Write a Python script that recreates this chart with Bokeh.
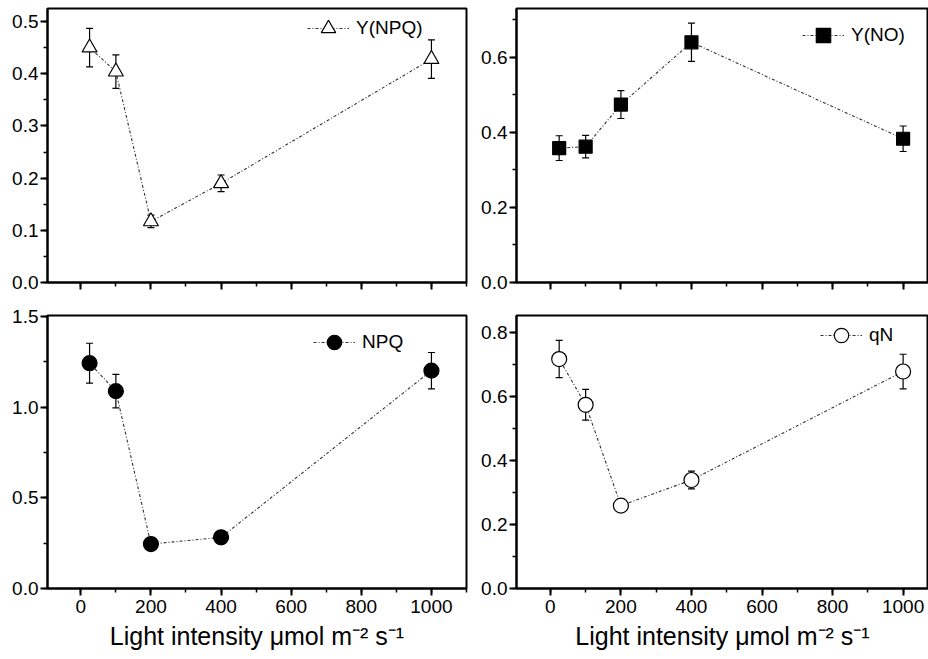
from bokeh.plotting import figure
from bokeh.layouts import column, row
from bokeh.models import (ColumnDataSource, Whisker, TeeHead, Range1d,
                          SingleIntervalTicker, NumeralTickFormatter,
                          CustomJSTickFormatter)
from bokeh.embed import file_html
from bokeh.resources import INLINE

# ---- data ----
light = [25, 100, 200, 400, 1000]

y_npq = [0.450, 0.404, 0.117, 0.190, 0.428]
y_npq_err = [0.037, 0.032, 0.012, 0.016, 0.037]

y_no = [0.358, 0.362, 0.474, 0.640, 0.383]
y_no_err = [0.033, 0.030, 0.037, 0.051, 0.034]

npq = [1.242, 1.088, 0.245, 0.282, 1.201]
npq_err = [0.110, 0.092, 0.020, 0.020, 0.100]

qn = [0.717, 0.574, 0.259, 0.339, 0.678]
qn_err = [0.058, 0.048, 0.020, 0.028, 0.054]

x_ticks_interval = 200
x_label = "Light intensity \u03bcmol m\u207b\u00b2 s\u207b\u00b9"

FONT = "Liberation Sans"


def make_panel(vals, errs, label, marker, fill, y_end, y_int, y_fmt,
               left_panel, top_row, legend_xy):
    if left_panel:
        w, mbl, mbr = 468, 47, 2
        xr = Range1d(-95, 1100)
    else:
        w, mbl, mbr = 460, 48, 0
        xr = Range1d(-96, 1072)
    if top_row:
        h, mbt, mbb = 300, 8, 18
    else:
        h, mbt, mbb = 359, 15, 71
    p = figure(width=w, height=h, output_backend="svg", toolbar_location=None,
               x_range=xr, y_range=Range1d(0, y_end),
               min_border_left=mbl, min_border_right=mbr,
               min_border_top=mbt, min_border_bottom=mbb)
    p.xgrid.visible = False
    p.ygrid.visible = False
    p.outline_line_color = "black"
    p.outline_line_width = 2
    p.outline_line_alpha = 1
    p.background_fill_color = "white"
    p.border_fill_color = "white"

    lower = [v - e for v, e in zip(vals, errs)]
    upper = [v + e for v, e in zip(vals, errs)]
    src = ColumnDataSource(dict(x=light, y=vals, lower=lower, upper=upper))

    wh = Whisker(source=src, base="x", lower="lower", upper="upper",
                 dimension="height", line_color="black", line_width=1.2,
                 upper_head=TeeHead(size=7, line_color="black", line_width=1.2),
                 lower_head=TeeHead(size=7, line_color="black", line_width=1.2),
                 level="underlay")
    p.add_layout(wh)

    p.line("x", "y", source=src, line_color="#333333", line_width=1.1,
           line_dash="3 2 1 2", legend_label=label)
    size = {"triangle": 15, "square": 13, "circle": 15}[marker]
    p.scatter("x", "y", source=src, marker=marker, size=size,
              fill_color=fill, line_color="black", line_width=1.2,
              legend_label=label)

    # axes
    p.xaxis.ticker = SingleIntervalTicker(interval=x_ticks_interval, num_minor_ticks=2)
    p.yaxis.ticker = SingleIntervalTicker(interval=y_int, num_minor_ticks=2)
    p.yaxis.formatter = NumeralTickFormatter(format=y_fmt)
    for ax in (p.xaxis[0], p.yaxis[0]):
        ax.axis_line_width = 2
        ax.axis_line_color = "black"
        ax.major_tick_line_width = 2
        ax.major_tick_line_color = "black"
        ax.minor_tick_line_width = 1.5
        ax.minor_tick_line_color = "black"
        ax.major_tick_out = 7
        ax.major_tick_in = 0
        ax.minor_tick_out = 4
        ax.minor_tick_in = 0
        ax.major_label_text_font = FONT
        ax.major_label_text_font_size = "19px"
        ax.major_label_text_color = "black"
    p.yaxis.major_label_standoff = 2
    p.xaxis.major_label_standoff = 4
    if top_row:
        p.xaxis.formatter = CustomJSTickFormatter(code="return ''")
        p.xaxis.major_label_standoff = 0
    else:
        p.xaxis.axis_label = x_label
        p.xaxis.axis_label_text_font = FONT
        p.xaxis.axis_label_text_font_size = "25px"
        p.xaxis.axis_label_text_font_style = "normal"
        p.xaxis.axis_label_text_color = "black"
        p.xaxis.axis_label_standoff = 6

    lg = p.legend[0]
    lg.location = legend_xy
    lg.padding = 0
    lg.margin = 0
    lg.spacing = 0
    lg.border_line_color = None
    lg.background_fill_alpha = 0
    lg.glyph_width = 42
    lg.glyph_height = 36
    lg.label_standoff = 7
    lg.label_text_font = FONT
    lg.label_text_font_size = "19px"
    lg.label_text_color = "black"
    return p


p1 = make_panel(y_npq, y_npq_err, "Y(NPQ)", "triangle", "white", 0.525, 0.1, "0.0",
                True, True, (260, 236))
p2 = make_panel(y_no, y_no_err, "Y(NO)", "square", "black", 0.73, 0.2, "0.0",
                False, True, (286, 229))
p3 = make_panel(npq, npq_err, "NPQ", "circle", "black", 1.505, 0.5, "0.0",
                True, False, (266, 228))
p4 = make_panel(qn, qn_err, "qN", "circle", "white", 0.853, 0.2, "0.0",
                False, False, (304, 235))

layout = column(row(p1, p2), row(p3, p4))
open("out.html", "w").write(file_html(layout, INLINE))
